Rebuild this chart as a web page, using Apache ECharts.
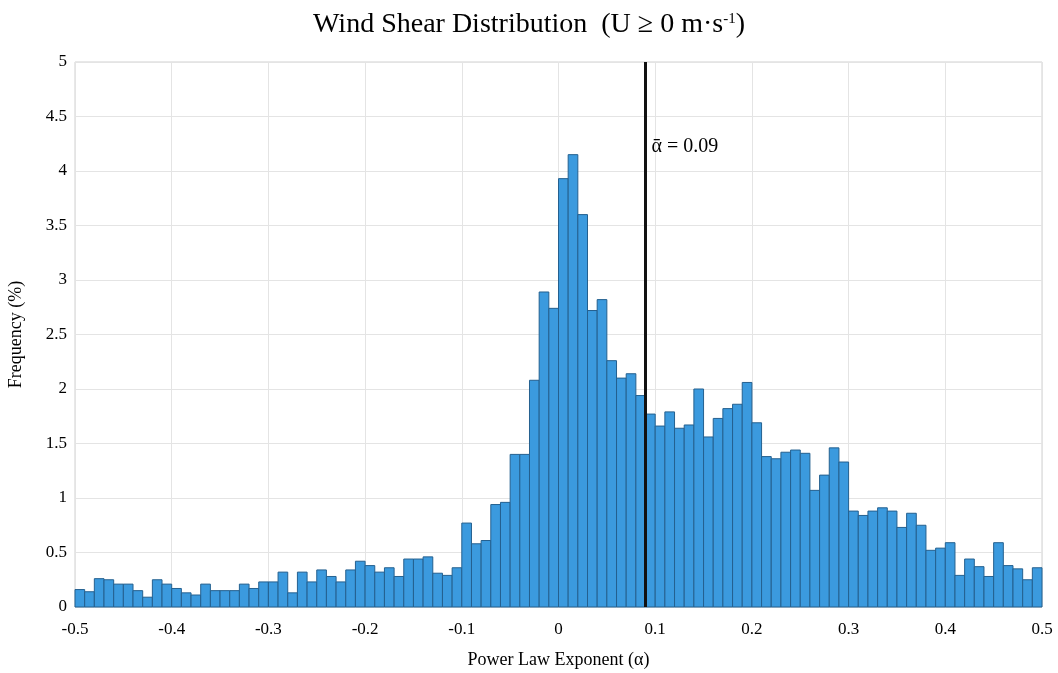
<!DOCTYPE html>
<html>
<head>
<meta charset="utf-8">
<title>Wind Shear Distribution</title>
<script src="https://cdn.jsdelivr.net/npm/echarts@6/dist/echarts.min.js"></script>
<style>
  html, body { margin: 0; padding: 0; background: #fff; }
  #main { width: 1058px; height: 673px; }
</style>
</head>
<body>
<div id="main"></div>
<script>
// 直方图：分箱起点与宽度
var binStart = -0.5;
var binWidth = 0.01;
// 每个分箱的频率 (%)，从 -0.5 到 0.5 共 100 个
var frequency = [
  0.16, 0.14, 0.26, 0.25, 0.21, 0.21, 0.15, 0.09, 0.25, 0.21,
  0.17, 0.13, 0.11, 0.21, 0.15, 0.15, 0.15, 0.21, 0.17, 0.23,
  0.23, 0.32, 0.13, 0.32, 0.23, 0.34, 0.28, 0.23, 0.34, 0.42,
  0.38, 0.32, 0.36, 0.28, 0.44, 0.44, 0.46, 0.31, 0.29, 0.36,
  0.77, 0.58, 0.61, 0.94, 0.96, 1.40, 1.40, 2.08, 2.89, 2.74,
  3.93, 4.15, 3.60, 2.72, 2.82, 2.26, 2.10, 2.14, 1.94, 1.77,
  1.66, 1.79, 1.64, 1.67, 2.00, 1.56, 1.73, 1.82, 1.86, 2.06,
  1.69, 1.38, 1.36, 1.42, 1.44, 1.41, 1.07, 1.21, 1.46, 1.33,
  0.88, 0.84, 0.88, 0.91, 0.88, 0.73, 0.86, 0.75, 0.52, 0.54,
  0.59, 0.29, 0.44, 0.37, 0.28, 0.59, 0.38, 0.35, 0.25, 0.36
];
var meanAlpha = 0.09;
var xTicks = { min: -0.5, max: 0.5, interval: 0.1 };
var yTicks = { min: 0, max: 5, interval: 0.5 };

var bins = frequency.map(function (f, i) {
  var lo = +(binStart + i * binWidth).toFixed(2);
  return [lo, +(lo + binWidth).toFixed(2), f];
});

var serif = '"Liberation Serif", "DejaVu Serif", serif';
var myChart = echarts.init(document.getElementById('main'));
var option = {
  backgroundColor: '#fff',
  animation: false,
  title: {
    text: '{a|Wind Shear Distribution  (U \u2265 0 m\u00b7s}{sup|-1}{a|)}',
    left: 'center',
    top: 6,
    textStyle: {
      fontWeight: 'normal',
      rich: {
        a: { fontFamily: serif, fontSize: 28, fontWeight: 'normal', color: '#000' },
        sup: { fontFamily: serif, fontSize: 15, fontWeight: 'normal', color: '#000', padding: [0, 0, 12, 0] }
      }
    }
  },
  grid: {
    left: 75, right: 16, top: 62, bottom: 66,
    outerBoundsMode: 'none',
    containLabel: false,
    show: true, borderColor: '#d0d0d0', borderWidth: 1
  },
  xAxis: {
    type: 'value',
    min: xTicks.min, max: xTicks.max, interval: xTicks.interval,
    name: 'Power Law Exponent (\u03b1)',
    nameLocation: 'middle',
    nameGap: 44,
    nameTextStyle: { fontFamily: serif, fontSize: 18, color: '#000' },
    axisLine: { show: false },
    axisTick: { show: false },
    axisLabel: {
      fontFamily: serif, fontSize: 17, color: '#000', margin: 14,
      formatter: function (v) { return +v.toFixed(1) + ''; }
    },
    splitLine: { show: true, lineStyle: { color: '#e4e4e4' } }
  },
  yAxis: {
    type: 'value',
    min: yTicks.min, max: yTicks.max, interval: yTicks.interval,
    name: 'Frequency (%)',
    nameLocation: 'middle',
    nameGap: 50,
    nameTextStyle: { fontFamily: serif, fontSize: 18, color: '#000' },
    axisLine: { show: false },
    axisTick: { show: false },
    axisLabel: { fontFamily: serif, fontSize: 17, color: '#000', margin: 8 },
    splitLine: { show: true, lineStyle: { color: '#e4e4e4' } }
  },
  series: [
    {
      type: 'custom',
      renderItem: function (params, api) {
        var p0 = api.coord([api.value(0), api.value(2)]);
        var p1 = api.coord([api.value(1), 0]);
        return {
          type: 'rect',
          shape: { x: p0[0], y: p0[1], width: p1[0] - p0[0], height: p1[1] - p0[1] },
          style: { fill: '#3b9ade', stroke: '#24608f', lineWidth: 1 }
        };
      },
      encode: { x: [0, 1], y: 2 },
      data: bins,
      markLine: {
        silent: true,
        symbol: 'none',
        lineStyle: { color: '#111', width: 3, type: 'solid' },
        label: { show: false },
        data: [{ xAxis: meanAlpha }]
      },
      markPoint: {
        silent: true,
        symbol: 'circle',
        symbolSize: 0,
        label: {
          show: true,
          position: 'right',
          distance: 6,
          fontFamily: serif,
          fontSize: 20,
          color: '#000',
          formatter: '\u1fb1 = ' + meanAlpha
        },
        data: [{ coord: [meanAlpha, 4.22] }]
      }
    }
  ]
};
myChart.setOption(option);
window.onresize = myChart.resize;
</script>
</body>
</html>
